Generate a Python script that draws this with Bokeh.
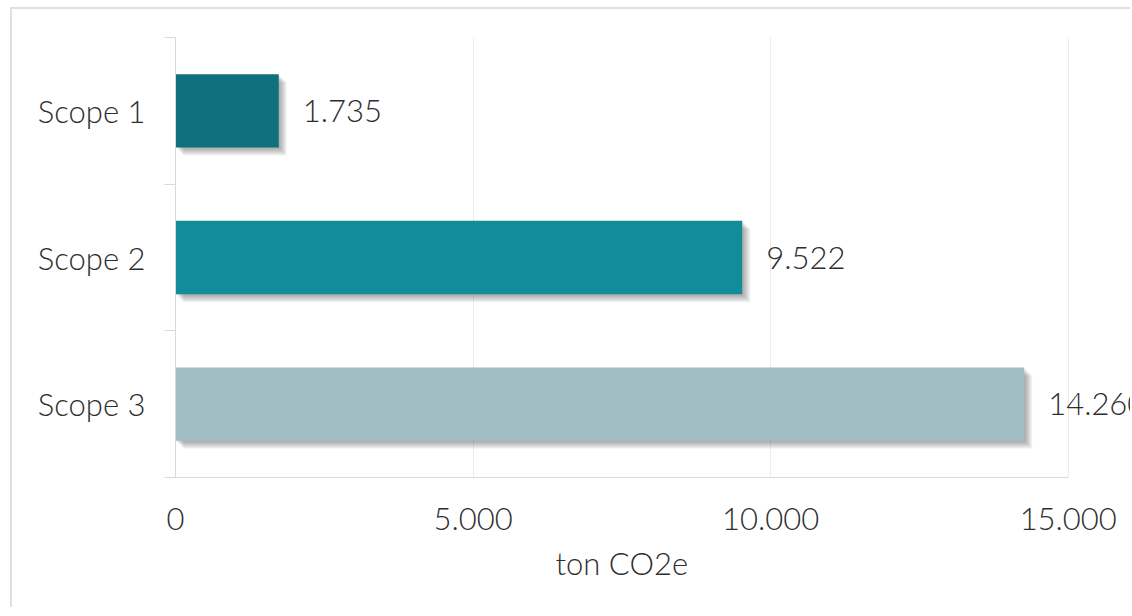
from bokeh.plotting import figure
from bokeh.models import (FactorRange, Range1d, CategoricalAxis, LinearAxis, FixedTicker,
                          ColumnDataSource, InlineStyleSheet, Title)
from bokeh.transform import dodge
from bokeh.core.properties import value
from bokeh.embed import file_html
from bokeh.resources import INLINE

# ---- data ----
categories = ["Scope 1", "Scope 2", "Scope 3"]
values = [1735, 9522, 14260]
colors = ["#10717C", "#138C99", "#A2BEC4"]
x_ticks = [0, 5000, 10000, 15000]
axis_title = "ton CO2e"

FONT = "Lato Light"
FS = "31px"
TXT = "#2e2e2e"
AX = "#d9d9d9"

def fmt(v):
    return f"{v:,}".replace(",", ".")

labels = [fmt(v) for v in values]

p = figure(width=1120, height=600,
           y_range=FactorRange(factors=categories[::-1]),
           x_range=Range1d(0, 16080),
           y_axis_location=None,
           output_backend="svg", toolbar_location=None,
           min_border_left=163, min_border_right=0,
           min_border_top=28, min_border_bottom=132)
p.outline_line_color = None
p.background_fill_color = "white"
p.border_fill_color = "white"
for g in p.ygrid:
    g.visible = False
p.xgrid.ticker = FixedTicker(ticks=x_ticks)
p.xgrid.grid_line_color = "#ececec"

# soft drop shadows (pixel offsets converted to data units)
px_x = 16080 / 957.0
px_y = 1 / 146.7
for d in [1, 2, 3, 4, 5, 6, 7, 8]:
    ssrc = ColumnDataSource(dict(cat=categories,
                                 left=[d * px_x] * len(values),
                                 right=[v + d * px_x for v in values]))
    p.hbar(y=dodge("cat", -d * px_y, range=p.y_range), left="left", right="right",
           height=0.5, source=ssrc, fill_color="#3a3a3a", fill_alpha=0.06, line_color=None)

src = ColumnDataSource(dict(cat=categories, value=values, color=colors, label=labels))
p.hbar(y="cat", left=0, right="value", height=0.5, fill_color="color",
       line_color=None, source=src)
p.text(x="value", y="cat", text="label", x_offset=24, text_baseline="middle",
       text_align="left", text_font=value(FONT), text_font_size=FS,
       text_color=TXT, source=src)

# x axis
xa = p.xaxis[0]
xa.ticker = FixedTicker(ticks=x_ticks)
xa.major_label_overrides = {t: fmt(t) for t in x_ticks}
xa.bounds = (0, 15000)
xa.axis_line_color = AX
xa.major_tick_line_color = None
xa.minor_tick_line_color = None
xa.major_label_standoff = 24
xa.major_label_text_font = FONT
xa.major_label_text_font_size = FS
xa.major_label_text_color = TXT

# axis title, centred under the 0..15000 span
p.add_layout(Title(text=axis_title, align="left", offset=380, standoff=18,
                   text_font=FONT, text_font_size=FS, text_font_style="normal",
                   text_color=TXT), "below")

# y boundary ticks (category boundaries in the factor range's synthetic coordinates)
nb = len(categories)
ba = LinearAxis(ticker=FixedTicker(ticks=list(range(nb + 1)), minor_ticks=[]),
                major_label_overrides={i: "" for i in range(nb + 1)},
                major_label_text_font_size="0px", major_label_standoff=0,
                major_tick_out=11, major_tick_in=0,
                major_tick_line_color=AX, axis_line_color=AX,
                minor_tick_line_color=None)
p.add_layout(ba, "left")

ca = CategoricalAxis(axis_line_color=None, major_tick_line_color=None,
                     minor_tick_line_color=None, major_label_standoff=13,
                     major_label_text_font=FONT, major_label_text_font_size=FS,
                     major_label_text_color=TXT)
p.add_layout(ca, "left")

p.stylesheets = [InlineStyleSheet(css=":host{margin:7px 0 0 10px;border-top:2px solid #e0e0e0;border-left:2px solid #e0e0e0;}")]

open("out.html", "w").write(file_html(p, INLINE))
